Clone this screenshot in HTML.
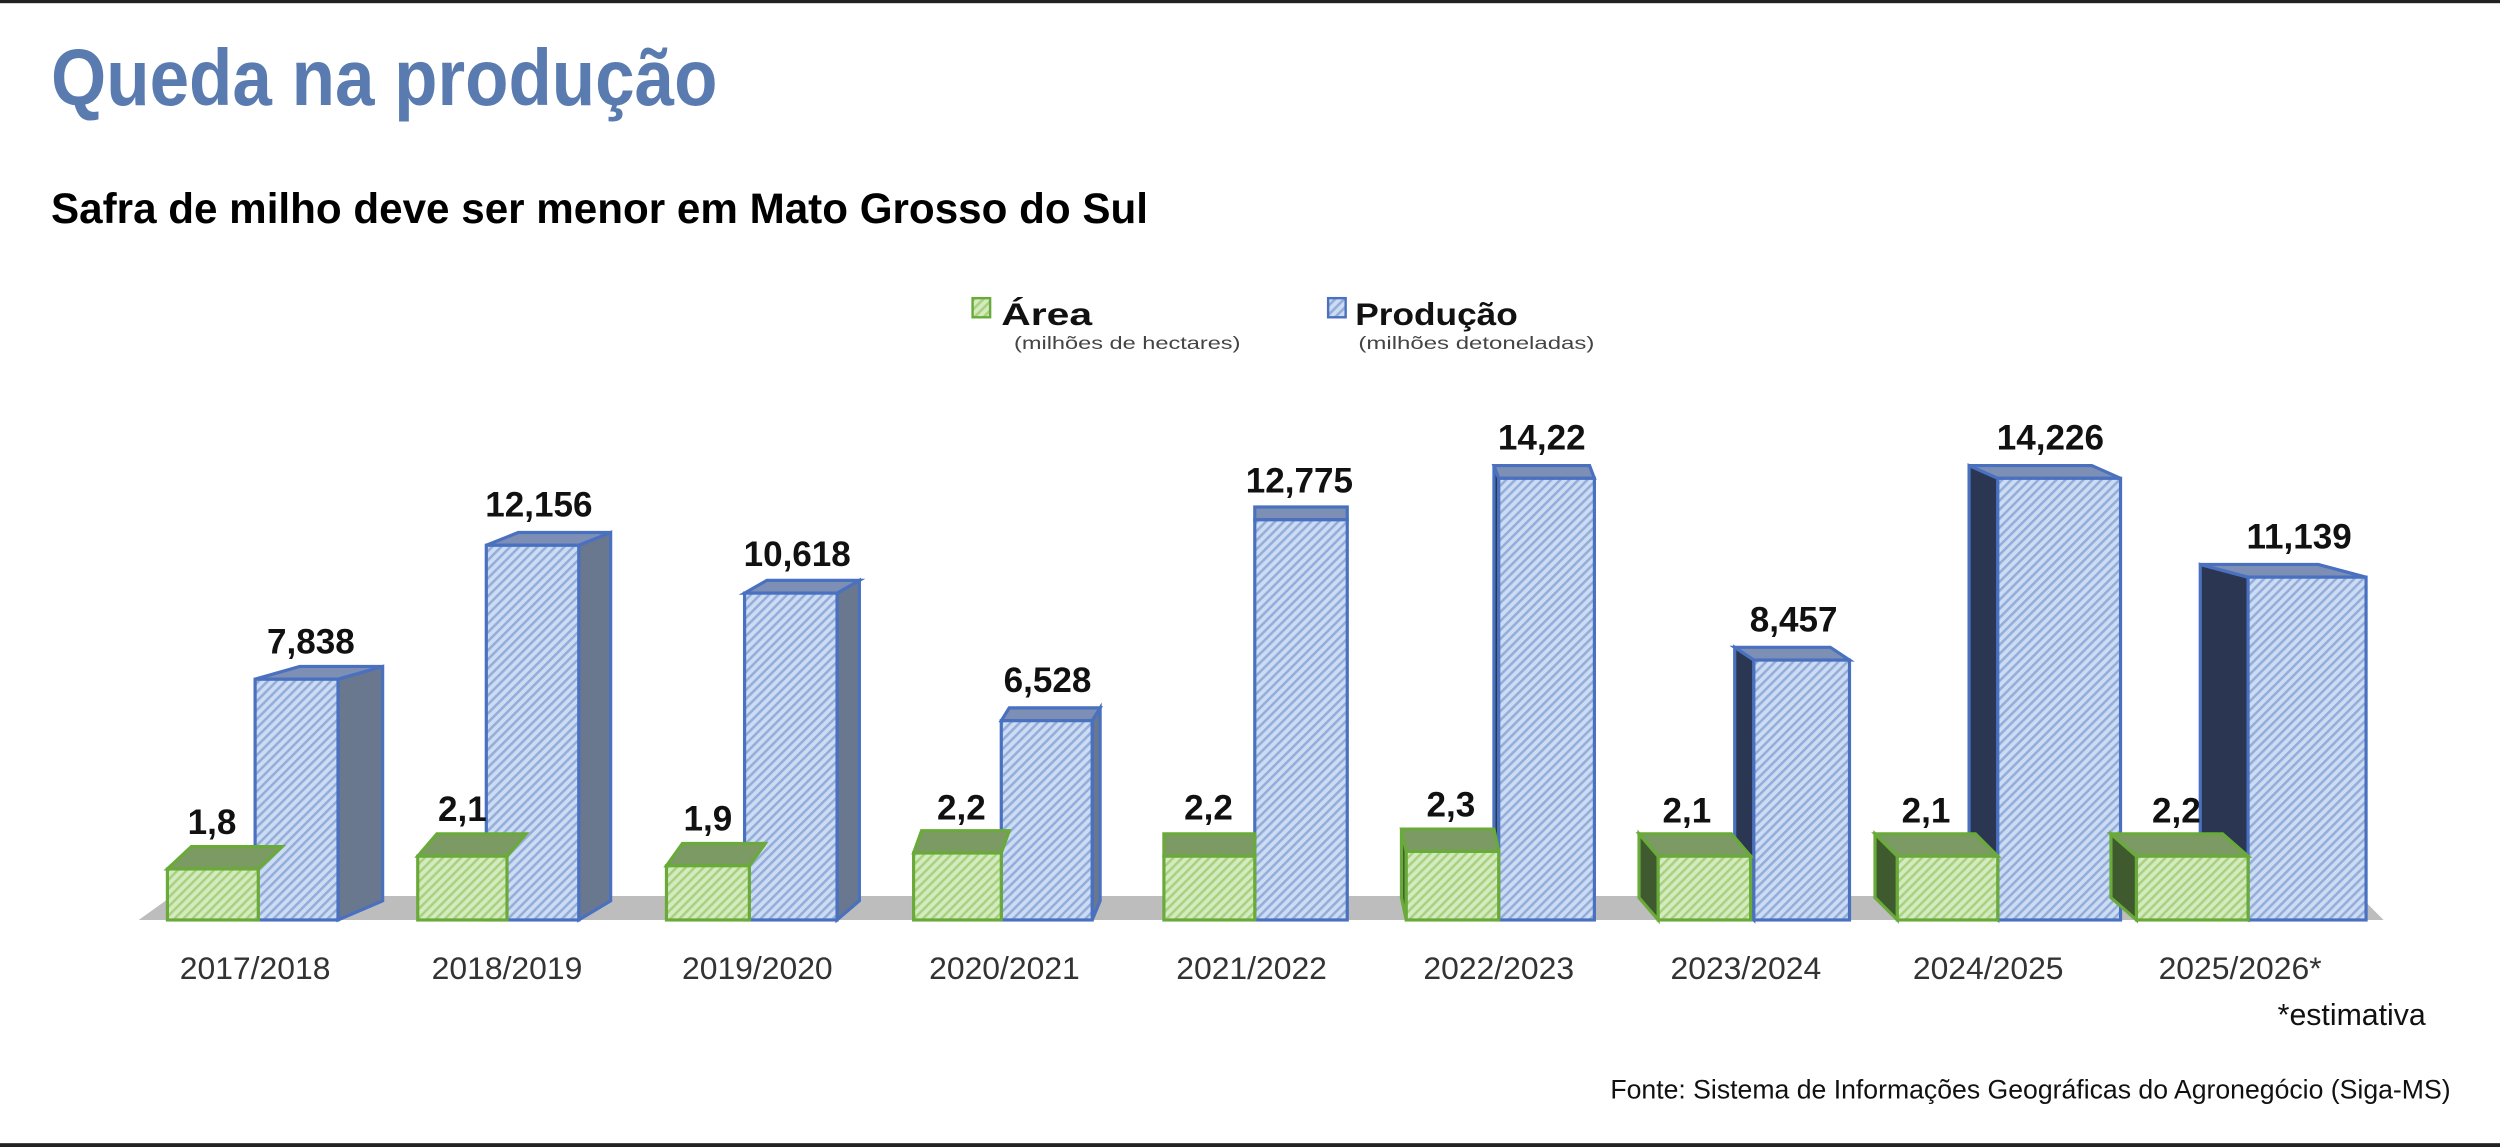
<!DOCTYPE html>
<html><head><meta charset="utf-8">
<style>
html,body{margin:0;padding:0;background:#fff;}
svg{display:block;}
text{font-family:"Liberation Sans",sans-serif;}
</style></head>
<body>
<svg id="s" width="2500" height="1147" viewBox="0 0 1568 719.4" xmlns="http://www.w3.org/2000/svg">
<defs>
<pattern id="pg" width="4" height="4" patternUnits="userSpaceOnUse" patternTransform="rotate(45)">
<rect width="4" height="4" fill="#d4eac0"/><rect width="1.6" height="4" fill="#a9d27f"/></pattern>
<pattern id="pb" width="4" height="4" patternUnits="userSpaceOnUse" patternTransform="rotate(45)">
<rect width="4" height="4" fill="#cddcf2"/><rect width="1.6" height="4" fill="#93aedb"/></pattern>
</defs>
<rect x="0" y="0" width="1568" height="2" fill="#222"/>
<rect x="0" y="717" width="1568" height="2.4" fill="#222"/>
<text x="32" y="66" font-size="50" font-weight="bold" fill="#5a7bb0" textLength="418" lengthAdjust="spacingAndGlyphs">Queda na produção</text>
<text x="32" y="140" font-size="27" font-weight="bold" fill="#000" textLength="688" lengthAdjust="spacingAndGlyphs">Safra de milho deve ser menor em Mato Grosso do Sul</text>
<rect x="610" y="187" width="11" height="12" fill="url(#pg)" stroke="#6aaa3a" stroke-width="1.5"/>
<text x="628" y="204" font-size="20" font-weight="bold" fill="#111" textLength="57" lengthAdjust="spacingAndGlyphs">Área</text>
<text x="636" y="219" font-size="11" fill="#444" textLength="142" lengthAdjust="spacingAndGlyphs">(milhões de hectares)</text>
<rect x="833" y="187" width="11" height="12" fill="url(#pb)" stroke="#4a70c0" stroke-width="1.5"/>
<text x="850" y="204" font-size="20" font-weight="bold" fill="#111" textLength="102" lengthAdjust="spacingAndGlyphs">Produção</text>
<text x="852" y="219" font-size="11" fill="#444" textLength="148" lengthAdjust="spacingAndGlyphs">(milhões detoneladas)</text>
<polygon points="87,577 108,562 1480,562 1495,577" fill="#bdbdbd"/>
<g id="bars"></g>
<g font-size="22" font-weight="bold" fill="#111" text-anchor="middle">
<text x="133" y="523">1,8</text><text x="195" y="410">7,838</text>
<text x="290" y="515">2,1</text><text x="338" y="324">12,156</text>
<text x="444" y="521">1,9</text><text x="500" y="355">10,618</text>
<text x="603" y="514">2,2</text><text x="657" y="434">6,528</text>
<text x="758" y="514">2,2</text><text x="815" y="309">12,775</text>
<text x="910" y="512">2,3</text><text x="967" y="282">14,22</text>
<text x="1058" y="516">2,1</text><text x="1125" y="396">8,457</text>
<text x="1208" y="516">2,1</text><text x="1286" y="282">14,226</text>
<text x="1365" y="516">2,2</text><text x="1442" y="344">11,139</text>
</g>
<g font-size="20" fill="#333" text-anchor="middle">
<text x="160" y="614">2017/2018</text>
<text x="318" y="614">2018/2019</text>
<text x="475" y="614">2019/2020</text>
<text x="630" y="614">2020/2021</text>
<text x="785" y="614">2021/2022</text>
<text x="940" y="614">2022/2023</text>
<text x="1095" y="614">2023/2024</text>
<text x="1247" y="614">2024/2025</text>
<text x="1405" y="614">2025/2026*</text>
</g>
<text x="1475" y="643" font-size="19" fill="#111" text-anchor="middle">*estimativa</text>
<text x="1537" y="689" font-size="17" fill="#111" text-anchor="end" textLength="527" lengthAdjust="spacingAndGlyphs">Fonte: Sistema de Informações Geográficas do Agronegócio (Siga-MS)</text>
</svg>
<script>
var G=[[105,162,545,160,212,426,28,15],[262,318,537,305,363,342,20,12],[418,470,543,467,525,372,14,10],[573,628,535,628,685,452,5,5],[730,787,537,787,845,326,0,0],[882,940,534,940,1000,300,-3,-3],[1040,1098,537,1100,1160,414,-12,-12],[1190,1253,537,1253,1330,300,-18,-14],[1340,1410,537,1410,1484,362,-30,-16]];
var B=577,h='';
function P(p,f,s){return '<polygon points="'+p.map(function(a){return a.join(',')}).join(' ')+'" fill="'+f+'"'+(s?' stroke="'+s+'" stroke-width="2"':'')+'/>';}
G.forEach(function(g){var gx0=g[0],gx1=g[1],gt=g[2],bx0=g[3],bx1=g[4],bt=g[5],dx=g[6],gd=g[7];
 // blue side
 if(dx>0){h+=P([[bx1,bt],[bx1+dx,bt-8],[bx1+dx,B-12],[bx1,B]],'#69778f','#4a70c0');}
 else if(dx<0){h+=P([[bx0,bt],[bx0+dx,bt-8],[bx0+dx,B-12],[bx0,B]],'#2b3752','#4a70c0');}
 h+=P([[bx0,bt],[bx0+dx,bt-8],[bx1+dx,bt-8],[bx1,bt]],'#7d8fb5','#4a70c0');
 h+='<rect x="'+bx0+'" y="'+bt+'" width="'+(bx1-bx0)+'" height="'+(B-bt)+'" fill="url(#pb)" stroke="#4a70c0" stroke-width="2"/>';
 // green
 if(gd<0){h+=P([[gx0,gt],[gx0+gd,gt-14],[gx0+gd,B-14],[gx0,B]],'#3f5a2e','#6aaa3a');}
 h+=P([[gx0,gt],[gx0+gd,gt-14],[gx1+gd,gt-14],[gx1,gt]],'#7c9a64','#6aaa3a');
 h+='<rect x="'+gx0+'" y="'+gt+'" width="'+(gx1-gx0)+'" height="'+(B-gt)+'" fill="url(#pg)" stroke="#6aaa3a" stroke-width="2"/>';
});
document.getElementById('bars').innerHTML=h;
</script>
</body></html>
